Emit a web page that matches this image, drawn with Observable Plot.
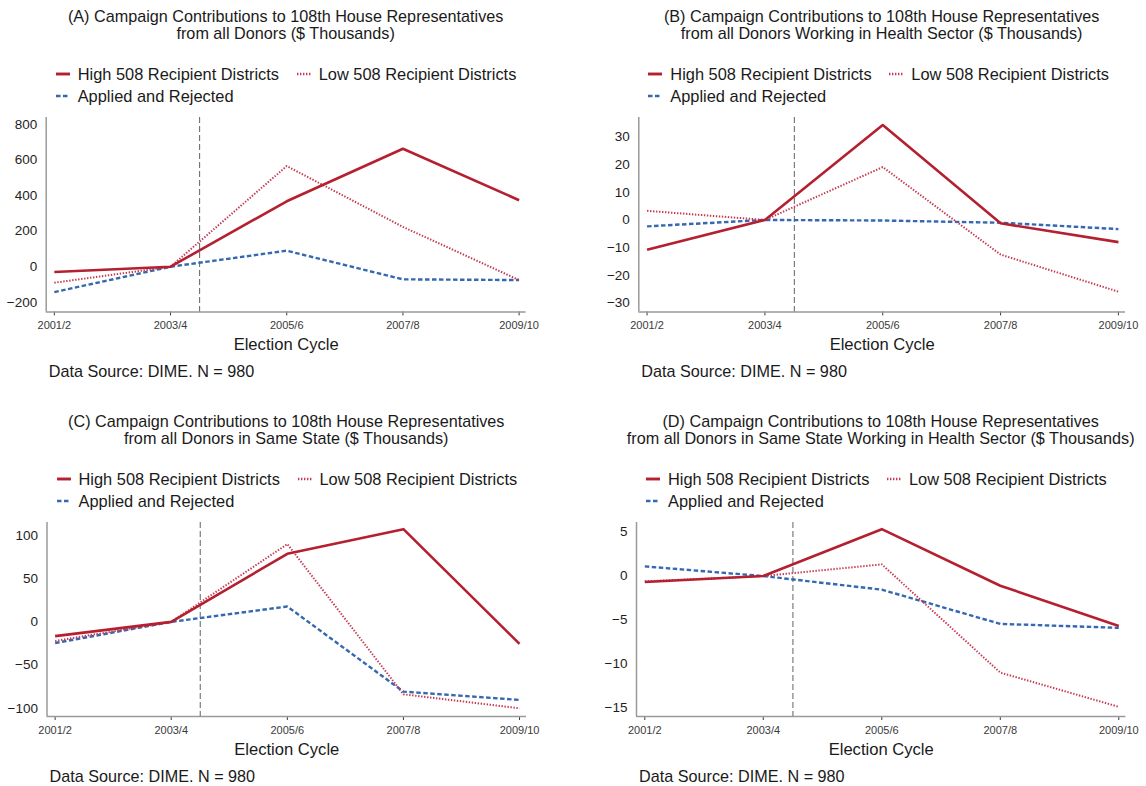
<!DOCTYPE html>
<html>
<head>
<meta charset="utf-8">
<script src="https://cdn.jsdelivr.net/npm/d3@7"></script>
<script src="https://cdn.jsdelivr.net/npm/@observablehq/plot@0.6"></script>
<style>
  html, body { margin: 0; padding: 0; background: #fff; }
  #root { position: relative; width: 1146px; height: 786px; overflow: hidden; background: #fff;
          font-family: "Liberation Sans", Arial, sans-serif; color: #1a1a1a; }
  .abs { position: absolute; white-space: nowrap; }
  .title { font-size: 16.2px; line-height: 16.6px; text-align: center; width: 640px; }
  .leg { font-size: 16.4px; line-height: 20px; display: flex; align-items: center; }
  .leg svg { margin-right: 8px; }
  .cap { font-size: 16.2px; line-height: 20px; }
</style>
</head>
<body>
<div id="root"></div>
<script>
// ---- data ----
const cycles = ["2001/2", "2003/4", "2005/6", "2007/8", "2009/10"];
const seriesNames = ["High 508 Recipient Districts", "Low 508 Recipient Districts", "Applied and Rejected"];

const titlesA = ["(A) Campaign Contributions to 108th House Representatives", "from all Donors ($ Thousands)"];
const titlesB = ["(B) Campaign Contributions to 108th House Representatives", "from all Donors Working in Health Sector ($ Thousands)"];
const titlesC = ["(C) Campaign Contributions to 108th House Representatives", "from all Donors in Same State ($ Thousands)"];
const titlesD = ["(D) Campaign Contributions to 108th House Representatives", "from all Donors in Same State Working in Health Sector ($ Thousands)"];

const aHigh = [-30, 0, 368, 663, 374];
const aLow = [-90, 0, 566, 224, -75];
const aApplied = [-143, 0, 90, -71, -75];
const aTicks = [-200, 0, 200, 400, 600, 800];

const bHigh = [-10.8, 0, 34.3, -1.2, -8.0];
const bLow = [3.3, 0, 19.1, -12.5, -25.9];
const bApplied = [-2.3, 0, -0.2, -1.0, -3.3];
const bTicks = [-30, -20, -10, 0, 10, 20, 30];

const cHigh = [-16.5, 0, 78.8, 107.3, -25.5];
const cLow = [-22, 0, 90, -83.8, -100];
const cApplied = [-24.5, 0, 17.8, -80.7, -90.3];
const cTicks = [-100, -50, 0, 50, 100];

const dHigh = [-0.68, 0, 5.34, -1.1, -5.7];
const dLow = [-0.6, 0, 1.33, -11.0, -14.9];
const dApplied = [1.1, 0, -1.55, -5.45, -5.9];
const dTicks = [-15, -10, -5, 0, 5];

const caption = "Data Source: DIME. N = 980";
const xLabel = "Election Cycle";
const policyCycle = 1.25; // vertical reference line between 2003/4 and 2005/6

// ---- styles ----
const styles = [
  {stroke: "#b4202f", strokeWidth: 2.6, dash: "none"},
  {stroke: "#c53a52", strokeWidth: 2.0, dash: "1.4,1.6"},
  {stroke: "#3568b0", strokeWidth: 2.4, dash: "4.5,2.5"}
];

const panels = [
  {col: 0, frame: [45.7, 117.3, 525.6, 311.7], yDomain: [-254, 839], ticks: aTicks, titles: titlesA, data: [aHigh, aLow, aApplied]},
  {col: 573, frame: [638.3, 117.3, 1125, 311.7], yDomain: [-33.2, 37.0], ticks: bTicks, titles: titlesB, data: [bHigh, bLow, bApplied]},
  {col: 0, frame: [46.5, 522.3, 526, 716.3], yDomain: [-109.5, 115], ticks: cTicks, titles: titlesC, data: [cHigh, cLow, cApplied]},
  {col: 573, frame: [636, 522.3, 1125.4, 716.3], yDomain: [-16.0, 6.1], ticks: dTicks, titles: titlesD, data: [dHigh, dLow, dApplied]}
];

const root = document.getElementById("root");
const xDomain = [-0.07, 4.06];

function legendSymbol(st) {
  const ns = "http://www.w3.org/2000/svg";
  const svg = document.createElementNS(ns, "svg");
  svg.setAttribute("width", 14);
  svg.setAttribute("height", 8);
  const l = document.createElementNS(ns, "line");
  l.setAttribute("x1", 0); l.setAttribute("x2", 14);
  l.setAttribute("y1", 4); l.setAttribute("y2", 4);
  l.setAttribute("stroke", st.stroke);
  l.setAttribute("stroke-width", st.strokeWidth + 0.3);
  l.setAttribute("stroke-dasharray", st.dash);
  svg.appendChild(l);
  return svg;
}

function addDiv(cls, left, top, text) {
  const d = document.createElement("div");
  d.className = "abs " + cls;
  d.style.left = left + "px";
  d.style.top = top + "px";
  if (text != null) d.textContent = text;
  root.appendChild(d);
  return d;
}

for (const p of panels) {
  const [fl, ft, fr, fb] = p.frame;
  const cx = (fl + fr) / 2;

  // titles
  p.titles.forEach((t, k) => addDiv("title", cx - 320, ft - 100.8 + k * 16.6 - 8.3, t));

  // legend
  const legPos = [[fl + 10, ft - 43.3], [fl + 251, ft - 43.3], [fl + 10, ft - 21]];
  seriesNames.forEach((name, k) => {
    const d = addDiv("leg", legPos[k][0], legPos[k][1] - 10, null);
    d.appendChild(legendSymbol(styles[k]));
    const s = document.createElement("span");
    s.textContent = name;
    d.appendChild(s);
  });

  // caption
  addDiv("cap", fl + 3, fb + 59.3 - 10, caption);

  // rows
  const rows = [];
  p.data.forEach((vals, k) => vals.forEach((v, i) => rows.push({i, v, k})));
  const lineMarks = [2, 1, 0].map(k => Plot.line(rows.filter(r => r.k === k), {
    x: "i", y: "v", stroke: styles[k].stroke, strokeWidth: styles[k].strokeWidth,
    strokeDasharray: styles[k].dash, strokeLinejoin: "round", strokeLinecap: "butt"
  }));

  const chart = Plot.plot({
    width: 573,
    height: (fb - ft) + 60,
    marginTop: 10,
    marginBottom: 50,
    marginLeft: fl - p.col,
    marginRight: p.col + 573 - fr,
    style: {fontFamily: '"Liberation Sans", Arial, sans-serif', background: "transparent", color: "#222"},
    x: {domain: xDomain},
    y: {domain: p.yDomain},
    marks: [
      Plot.axisY({ticks: p.ticks, tickSize: 0, tickPadding: 9, fontSize: 13.5, label: null, color: "#1e1e1e"}),
      Plot.axisX({ticks: [0, 1, 2, 3, 4], tickFormat: i => cycles[i], tickSize: 4, tickPadding: 5.5, fontSize: 11, label: null, color: "#3a3a3a"}),
      Plot.ruleX([xDomain[0]], {stroke: "#9a9a9a", strokeWidth: 1.5}),
      Plot.ruleY([p.yDomain[0]], {stroke: "#9a9a9a", strokeWidth: 1.5}),
      Plot.ruleX([policyCycle], {stroke: "#707070", strokeWidth: 1.1, strokeDasharray: "6,3"}),
      ...lineMarks,
      Plot.text([xLabel], {text: d => d, frameAnchor: "bottom", dy: 33, fontSize: 16.6, lineAnchor: "middle", fill: "#1a1a1a"})
    ]
  });
  chart.style.position = "absolute";
  chart.style.left = p.col + "px";
  chart.style.top = (ft - 10) + "px";
  root.appendChild(chart);
}
</script>
</body>
</html>
